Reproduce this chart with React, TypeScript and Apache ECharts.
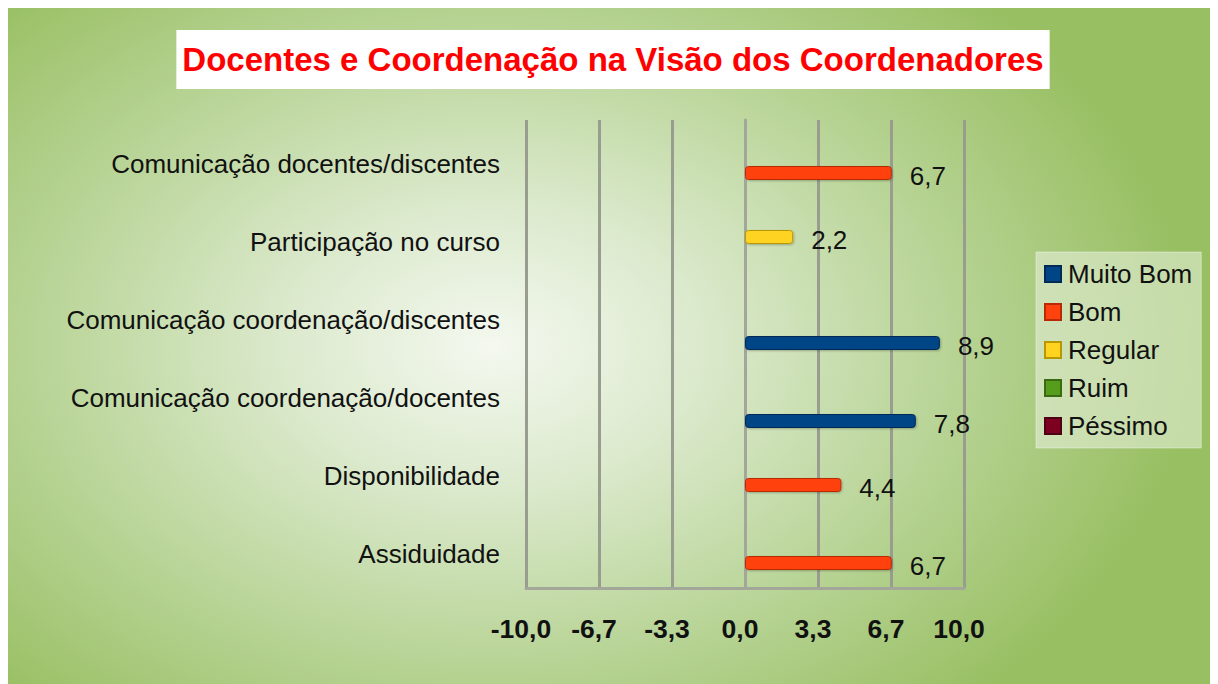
import React, { useEffect, useRef } from "react";
import * as echarts from "echarts";

const categories = [
  "Assiduidade",
  "Disponibilidade",
  "Comunicação coordenação/docentes",
  "Comunicação coordenação/discentes",
  "Participação no curso",
  "Comunicação docentes/discentes",
];
const seriesNames = ["Muito Bom", "Bom", "Regular", "Ruim", "Péssimo"];
const muitoBom = [0, 0, 7.8, 8.9, 0, 0];
const bom = [6.7, 4.4, 0, 0, 0, 6.7];
const regular = [0, 0, 0, 0, 2.2, 0];
const ruim = [0, 0, 0, 0, 0, 0];
const pessimo = [0, 0, 0, 0, 0, 0];
const seriesColors = ["#004586", "#ff420e", "#ffd320", "#579d1c", "#7e0021"];
const seriesBorders = ["#002a55", "#b82a05", "#b89800", "#3a6b12", "#4e0014"];
const axisMin = -10;
const axisMax = 10;
const axisStep = 10 / 3;

const FONT = "'Liberation Sans', Arial, sans-serif";

const fmt = (v: number) => {
  const x = Math.abs(v) < 1e-9 ? 0 : v;
  return x.toFixed(1).replace(".", ",");
};

export default function App() {
  const ref = useRef<HTMLDivElement>(null);
  useEffect(() => {
    document.documentElement.style.overflow = "hidden";
    document.body.style.overflow = "hidden";
    const chart = echarts.init(ref.current!, null, { renderer: "svg" });
    const values = [muitoBom, bom, regular, ruim, pessimo];
    const series = seriesNames
      .map((name, i) => ({
        name,
        type: "bar" as const,
        barWidth: 14,
        barGap: "0%",
        data: values[i].map((v) => (v === 0 ? null : v)),
        itemStyle: {
          color: seriesColors[i],
          borderColor: seriesBorders[i],
          borderWidth: 1,
          borderRadius: 3,
          shadowColor: "rgba(0,0,0,0.25)",
          shadowBlur: 2,
          shadowOffsetX: 1,
          shadowOffsetY: 1,
        },
        label: {
          show: true,
          position: "right" as const,
          distance: 18,
          offset: [0, 3],
          color: "#111",
          fontSize: 26,
          fontFamily: FONT,
          formatter: (p: any) => fmt(p.value),
        },
      }))
      .reverse();

    chart.setOption({
      animation: false,
      backgroundColor: "transparent",
      textStyle: { fontFamily: FONT },
      title: {
        text: "Docentes e Coordenação na Visão dos Coordenadores",
        left: "center",
        top: 22,
        backgroundColor: "#ffffff",
        padding: [13, 6, 13, 6],
        textStyle: {
          color: "#ff0000",
          fontSize: 33,
          fontWeight: "bold",
          fontFamily: FONT,
        },
      },
      legend: {
        data: seriesNames,
        orient: "vertical",
        left: 1028,
        top: 244,
        padding: [9, 9, 9, 8],
        itemWidth: 16,
        itemHeight: 16,
        itemGap: 12,
        backgroundColor: "rgba(235,243,225,0.55)",
        borderColor: "rgba(255,255,255,0.4)",
        borderWidth: 1,
        icon: "rect",
        textStyle: { fontSize: 26, color: "#111", fontFamily: FONT, padding: [0, 0, 0, 2] },
      },
      grid: { left: 518, right: 254, top: 112, bottom: 96 },
      xAxis: {
        type: "value",
        min: axisMin,
        max: axisMax,
        interval: axisStep,
        axisLine: { show: true, lineStyle: { color: "#a3a79a", width: 3 } },
        axisTick: { show: false },
        splitLine: { show: true, lineStyle: { color: "#999d90", width: 3 } },
        axisLabel: {
          margin: 27,
          fontSize: 26.5,
          fontWeight: "bold",
          color: "#111",
          fontFamily: FONT,
          padding: [0, 10, 0, 0],
          formatter: (v: number) => fmt(v),
        },
      },
      yAxis: {
        type: "category",
        data: categories,
        axisLine: { show: true, lineStyle: { color: "#a3a79a", width: 3 } },
        axisTick: { show: false },
        axisLabel: {
          margin: 26,
          fontSize: 26,
          color: "#111",
          fontFamily: FONT,
          verticalAlign: "top",
          lineHeight: 10,
        },
      },
      series,
    });
    return () => chart.dispose();
  }, []);

  return (
    <div
      ref={ref}
      style={{
        width: 1210,
        height: 676,
        background:
          "radial-gradient(ellipse 58% 72% at 40% 50%, #f4f8ef 0%, #dbe9cc 30%, #b8d496 65%, #98bf62 100%)",
      }}
    />
  );
}
